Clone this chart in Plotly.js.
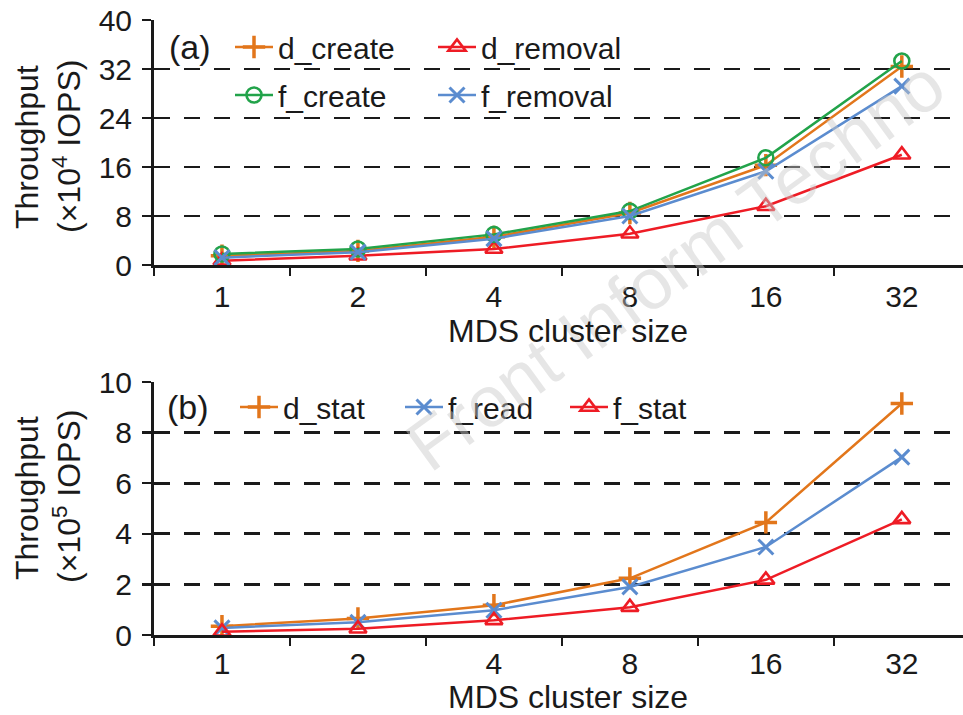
<!DOCTYPE html>
<html><head><meta charset="utf-8">
<script src="https://cdn.plot.ly/plotly-3.0.1.min.js"></script>
<style>html,body{margin:0;padding:0;background:#fff}</style>
</head><body><div id="chart" style="width:963px;height:715px"></div>
<script>
// MDS cluster sizes (x categories)
const clusterSizes = ['1', '2', '4', '8', '16', '32'];

// Panel (a): throughput in 10^4 IOPS
const dCreate  = [1.5, 2.3, 4.6, 8.5, 16.3, 32.4];
const dRemoval = [0.7, 1.5, 2.6, 5.1, 9.6, 18.0];
const fCreate  = [1.8, 2.6, 5.0, 8.8, 17.5, 33.3];
const fRemoval = [1.2, 2.1, 4.3, 8.0, 15.3, 29.2];

// Panel (b): throughput in 10^5 IOPS
const dStat = [0.35, 0.65, 1.18, 2.24, 4.45, 9.15];
const fRead = [0.28, 0.50, 0.98, 1.90, 3.48, 7.03];
const fStat = [0.13, 0.25, 0.58, 1.10, 2.18, 4.57];

const yTicksA = [0, 8, 16, 24, 32, 40];
const yTicksB = [0, 2, 4, 6, 8, 10];

const ORANGE = '#E2761B', RED = '#EE1C25', GREEN = '#22A34A', BLUE = '#5B8CCF';
const INK = '#1a1a1a';
const FONT = '"Liberation Sans", Arial, Helvetica, sans-serif';

function tr(name, y, color, symbol, size, lw, xa, ya, legend) {
  return {
    type: 'scatter', mode: 'lines+markers', name: name,
    x: clusterSizes, y: y, xaxis: xa, yaxis: ya, legend: legend,
    line: {color: color, width: 2.5},
    marker: {symbol: symbol, size: size, color: color, line: {color: color, width: lw}},
    cliponaxis: false
  };
}

const data = [
  tr('d_create', dCreate, ORANGE, 'cross-thin', 16, 3.5, 'x', 'y', 'legend'),
  tr('d_removal', dRemoval, RED, 'triangle-up-open', 15, 2.6, 'x', 'y', 'legend'),
  tr('f_create', fCreate, GREEN, 'circle-open', 15, 2.6, 'x', 'y', 'legend2'),
  tr('f_removal', fRemoval, BLUE, 'x-thin', 15, 3, 'x', 'y', 'legend2'),
  tr('d_stat', dStat, ORANGE, 'cross-thin', 16, 3.5, 'x2', 'y2', 'legend3'),
  tr('f_read', fRead, BLUE, 'x-thin', 15, 3, 'x2', 'y2', 'legend3'),
  tr('f_stat', fStat, RED, 'triangle-up-open', 15, 2.6, 'x2', 'y2', 'legend3')
];

function xAxis(anchor, standoff) {
  return {
    anchor: anchor, type: 'category', categoryorder: 'array', categoryarray: clusterSizes,
    range: [-0.5, 5.45], domain: [0, 1],
    showline: true, linecolor: INK, linewidth: 3,
    ticks: 'outside', tickson: 'boundaries', ticklen: 8, tickwidth: 2.5, tickcolor: INK,
    showgrid: false, zeroline: false,
    tickfont: {size: 30, color: INK, family: FONT}, ticklabelstandoff: standoff
  };
}
function yAxis(anchor, domain, range, ticks) {
  return {
    anchor: anchor, domain: domain, range: range, tickvals: ticks,
    showline: true, linecolor: INK, linewidth: 3,
    ticks: 'outside', ticklen: 9, tickwidth: 2.5, tickcolor: INK,
    showgrid: true, gridcolor: INK, gridwidth: 2.6, griddash: '16px,14px',
    zeroline: false,
    tickfont: {size: 30, color: INK, family: FONT}, ticklabelstandoff: 4
  };
}

const px = v => (v - 154) / 809;
const py = v => 1 - v / 715;

function legendAt(x, y, w) {
  return {x: px(x), y: py(y), xanchor: 'left', yanchor: 'top', orientation: 'h',
          entrywidth: w, itemwidth: 38, font: {size: 30, color: INK, family: FONT},
          bgcolor: 'rgba(0,0,0,0)', borderwidth: 0};
}

function note(text, x, y, size, angle) {
  return {text: text, xref: 'paper', yref: 'paper', x: px(x), y: py(y),
          xanchor: 'center', yanchor: 'middle', textangle: angle || 0, showarrow: false,
          font: {size: size, color: INK, family: FONT}};
}

const layout = {
  width: 963, height: 715,
  margin: {l: 154, r: 0, t: 0, b: 0},
  paper_bgcolor: '#fff', plot_bgcolor: 'rgba(0,0,0,0)',
  font: {family: FONT, color: INK},
  showlegend: true,
  xaxis: xAxis('y', 3),
  yaxis: yAxis('x', [py(265), py(20)], [0, 40], yTicksA),
  xaxis2: xAxis('y2', 0),
  yaxis2: yAxis('x2', [py(635), py(382)], [0, 10], yTicksB),
  legend: legendAt(230, 21, 150),
  legend2: legendAt(230, 69, 150),
  legend3: legendAt(235, 381, 112),
  annotations: [
    {text: 'Front Inform Techno', xref: 'paper', yref: 'paper', x: px(675), y: py(265),
     xanchor: 'center', yanchor: 'middle', textangle: -36, showarrow: false,
     font: {size: 72, color: 'rgba(200,200,200,0.45)', family: FONT}},
    note('(a)', 190, 47, 34),
    note('(b)', 188, 407, 34),
    note('Throughput', 27, 147, 32, -90),
    note('(×10<sup>4</sup> IOPS)', 67, 147, 32, -90),
    note('Throughput', 27, 498, 32, -90),
    note('(×10<sup>5</sup> IOPS)', 67, 497, 32, -90),
    note('MDS cluster size', 568, 331, 32),
    note('MDS cluster size', 568, 697, 32)
  ]
};

Plotly.newPlot('chart', data, layout, {displayModeBar: false, staticPlot: true});
</script>
</body></html>
